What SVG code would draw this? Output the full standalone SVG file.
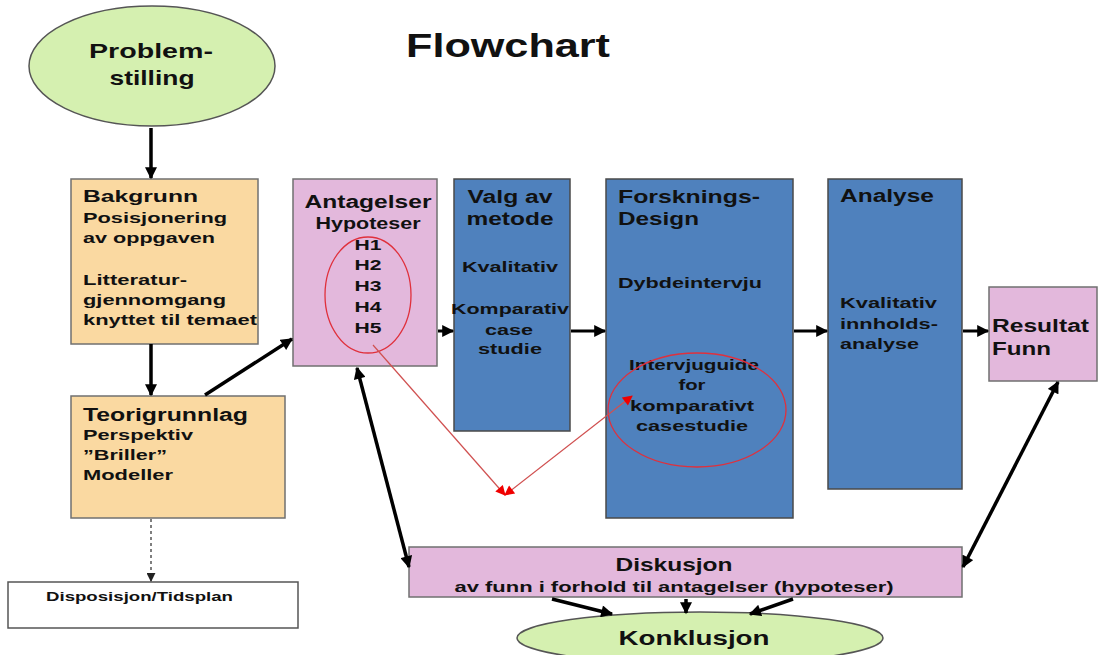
<svg xmlns="http://www.w3.org/2000/svg" width="1099" height="655" viewBox="0 0 1099 655">
<style>
text{font-family:"Liberation Sans",Arial,sans-serif;font-weight:bold;fill:#111}
.or{fill:#FAD9A1;stroke:#707070;stroke-width:1.5}
.pk{fill:#E3B8DC;stroke:#707070;stroke-width:1.5}
.bl{fill:#4F81BD;stroke:#4a4a4a;stroke-width:1.5}
.gr{fill:#D5F0B0;stroke:#555;stroke-width:1.5}
.wh{fill:#fff;stroke:#555;stroke-width:1.5}
.c{fill:none;stroke:#000;stroke-width:3.5}
.h{fill:none;stroke:#000;stroke-width:3}
.red{fill:none;stroke:#D05050;stroke-width:1.2}
.ring{fill:none;stroke:#E0303C;stroke-width:1.3}
.m{text-anchor:middle}
</style>
<defs>
<marker id="a" viewBox="0 0 10 10" refX="9" refY="5" markerWidth="13" markerHeight="12" markerUnits="userSpaceOnUse" orient="auto-start-reverse"><path d="M0,0 L10,5 L0,10 z" fill="#000"/></marker>
<marker id="s" viewBox="0 0 10 10" refX="9" refY="5" markerWidth="9" markerHeight="9" markerUnits="userSpaceOnUse" orient="auto-start-reverse"><path d="M0,0 L10,5 L0,10 z" fill="#222"/></marker>
<marker id="r" viewBox="0 0 10 10" refX="9" refY="5" markerWidth="12" markerHeight="10" markerUnits="userSpaceOnUse" orient="auto-start-reverse"><path d="M0,0 L10,5 L0,10 z" fill="#F00000"/></marker>
</defs>

<text x="508" y="57" class="m" font-size="33" textLength="204" lengthAdjust="spacingAndGlyphs">Flowchart</text>

<g id="problemstilling">
<ellipse class="gr" cx="152" cy="66" rx="123" ry="60"/>
<text x="151" y="58" class="m" font-size="21" textLength="124" lengthAdjust="spacingAndGlyphs">Problem-</text>
<text x="152" y="85" class="m" font-size="21" textLength="85" lengthAdjust="spacingAndGlyphs">stilling</text>
</g>

<g id="bakgrunn">
<rect class="or" x="71" y="179" width="187" height="165"/>
<text x="83" y="202" font-size="17" textLength="115" lengthAdjust="spacingAndGlyphs">Bakgrunn</text>
<text x="83" y="223" font-size="15" textLength="144" lengthAdjust="spacingAndGlyphs">Posisjonering</text>
<text x="83" y="243" font-size="15" textLength="132" lengthAdjust="spacingAndGlyphs">av oppgaven</text>
<text x="83" y="285" font-size="15" textLength="104" lengthAdjust="spacingAndGlyphs">Litteratur-</text>
<text x="83" y="305" font-size="15" textLength="143" lengthAdjust="spacingAndGlyphs">gjennomgang</text>
<text x="83" y="325" font-size="15" textLength="174" lengthAdjust="spacingAndGlyphs">knyttet til temaet</text>
</g>

<g id="antagelser">
<rect class="pk" x="293" y="179" width="144" height="187"/>
<text x="368" y="208" class="m" font-size="18" textLength="127" lengthAdjust="spacingAndGlyphs">Antagelser</text>
<text x="368" y="229" class="m" font-size="16" textLength="105" lengthAdjust="spacingAndGlyphs">Hypoteser</text>
<text x="368" y="250" class="m" font-size="15" textLength="27" lengthAdjust="spacingAndGlyphs">H1</text>
<text x="368" y="270" class="m" font-size="15" textLength="27" lengthAdjust="spacingAndGlyphs">H2</text>
<text x="368" y="291" class="m" font-size="15" textLength="27" lengthAdjust="spacingAndGlyphs">H3</text>
<text x="368" y="312" class="m" font-size="15" textLength="27" lengthAdjust="spacingAndGlyphs">H4</text>
<text x="368" y="333" class="m" font-size="15" textLength="27" lengthAdjust="spacingAndGlyphs">H5</text>
<ellipse class="ring" cx="368" cy="295" rx="43" ry="58"/>
</g>

<g id="valg-av-metode">
<rect class="bl" x="454" y="179" width="116" height="252"/>
<text x="510" y="203" class="m" font-size="18" textLength="85" lengthAdjust="spacingAndGlyphs">Valg av</text>
<text x="510" y="225" class="m" font-size="18" textLength="87" lengthAdjust="spacingAndGlyphs">metode</text>
<text x="510" y="272" class="m" font-size="15" textLength="96" lengthAdjust="spacingAndGlyphs">Kvalitativ</text>
<text x="510" y="314" class="m" font-size="15" textLength="118" lengthAdjust="spacingAndGlyphs">Komparativ</text>
<text x="509" y="335" class="m" font-size="15" textLength="48" lengthAdjust="spacingAndGlyphs">case</text>
<text x="510" y="354" class="m" font-size="15" textLength="64" lengthAdjust="spacingAndGlyphs">studie</text>
</g>

<g id="forskningsdesign">
<rect class="bl" x="606" y="179" width="187" height="339"/>
<text x="618" y="203" font-size="18" textLength="142" lengthAdjust="spacingAndGlyphs">Forsknings-</text>
<text x="618" y="225" font-size="18" textLength="81" lengthAdjust="spacingAndGlyphs">Design</text>
<text x="618" y="288" font-size="15" textLength="144" lengthAdjust="spacingAndGlyphs">Dybdeintervju</text>
<text x="694" y="370" class="m" font-size="15" textLength="130" lengthAdjust="spacingAndGlyphs">Intervjuguide</text>
<text x="692" y="390" class="m" font-size="15" textLength="27" lengthAdjust="spacingAndGlyphs">for</text>
<text x="692" y="411" class="m" font-size="15" textLength="124" lengthAdjust="spacingAndGlyphs">komparativt</text>
<text x="692" y="431" class="m" font-size="15" textLength="112" lengthAdjust="spacingAndGlyphs">casestudie</text>
<ellipse class="ring" cx="697" cy="410" rx="89" ry="57"/>
</g>

<g id="analyse">
<rect class="bl" x="828" y="179" width="134" height="310"/>
<text x="840" y="202" font-size="18" textLength="94" lengthAdjust="spacingAndGlyphs">Analyse</text>
<text x="840" y="308" font-size="15" textLength="97" lengthAdjust="spacingAndGlyphs">Kvalitativ</text>
<text x="840" y="329" font-size="15" textLength="98" lengthAdjust="spacingAndGlyphs">innholds-</text>
<text x="840" y="349" font-size="15" textLength="79" lengthAdjust="spacingAndGlyphs">analyse</text>
</g>

<g id="resultat">
<rect class="pk" x="989" y="287" width="108" height="94"/>
<text x="992" y="332" font-size="18" textLength="97" lengthAdjust="spacingAndGlyphs">Resultat</text>
<text x="992" y="355" font-size="18" textLength="59" lengthAdjust="spacingAndGlyphs">Funn</text>
</g>

<g id="teorigrunnlag">
<rect class="or" x="71" y="396" width="214" height="122"/>
<text x="83" y="421" font-size="18" textLength="165" lengthAdjust="spacingAndGlyphs">Teorigrunnlag</text>
<text x="83" y="440" font-size="15" textLength="110" lengthAdjust="spacingAndGlyphs">Perspektiv</text>
<text x="83" y="460" font-size="15" textLength="84" lengthAdjust="spacingAndGlyphs">”Briller”</text>
<text x="83" y="480" font-size="15" textLength="90" lengthAdjust="spacingAndGlyphs">Modeller</text>
</g>

<g id="disposisjon">
<rect class="wh" x="8" y="582" width="290" height="46"/>
<text x="46" y="601" font-size="12.5" textLength="187" lengthAdjust="spacingAndGlyphs">Disposisjon/Tidsplan</text>
</g>

<g id="diskusjon">
<rect class="pk" x="409" y="547" width="553" height="50"/>
<text x="674" y="571" class="m" font-size="18" textLength="117" lengthAdjust="spacingAndGlyphs">Diskusjon</text>
<text x="674" y="592" class="m" font-size="15" textLength="439" lengthAdjust="spacingAndGlyphs">av funn i forhold til antagelser (hypoteser)</text>
</g>

<g id="konklusjon">
<ellipse class="gr" cx="700" cy="638" rx="183" ry="26"/>
<text x="694" y="645" class="m" font-size="21" textLength="151" lengthAdjust="spacingAndGlyphs">Konklusjon</text>
</g>

<g id="connectors">
<line class="c" x1="151" y1="128" x2="151" y2="178" marker-end="url(#a)"/>
<line class="c" x1="151" y1="344" x2="151" y2="395" marker-end="url(#a)"/>
<line class="c" x1="205" y1="395" x2="292" y2="339" marker-end="url(#a)"/>
<line x1="151" y1="519" x2="151" y2="581" stroke="#555" stroke-width="1.5" stroke-dasharray="3,3" marker-end="url(#s)"/>
<line class="h" x1="438" y1="331" x2="453" y2="331" marker-end="url(#a)"/>
<line class="h" x1="571" y1="331" x2="605" y2="331" marker-end="url(#a)"/>
<line class="h" x1="794" y1="331" x2="827" y2="331" marker-end="url(#a)"/>
<line class="h" x1="963" y1="331" x2="988" y2="331" marker-end="url(#a)"/>
<line class="c" x1="357" y1="368" x2="409" y2="567" marker-start="url(#a)" marker-end="url(#a)"/>
<line class="c" x1="1058" y1="382" x2="963" y2="567" marker-start="url(#a)" marker-end="url(#a)"/>
<line class="c" x1="552" y1="599" x2="612" y2="614" marker-end="url(#a)"/>
<line class="c" x1="686" y1="599" x2="686" y2="613" marker-end="url(#a)"/>
<line class="c" x1="793" y1="599" x2="750" y2="614" marker-end="url(#a)"/>
<line class="red" x1="373" y1="345" x2="505" y2="495" marker-end="url(#r)"/>
<line class="red" x1="505" y1="495" x2="632" y2="396" marker-start="url(#r)" marker-end="url(#r)"/>
</g>
</svg>
